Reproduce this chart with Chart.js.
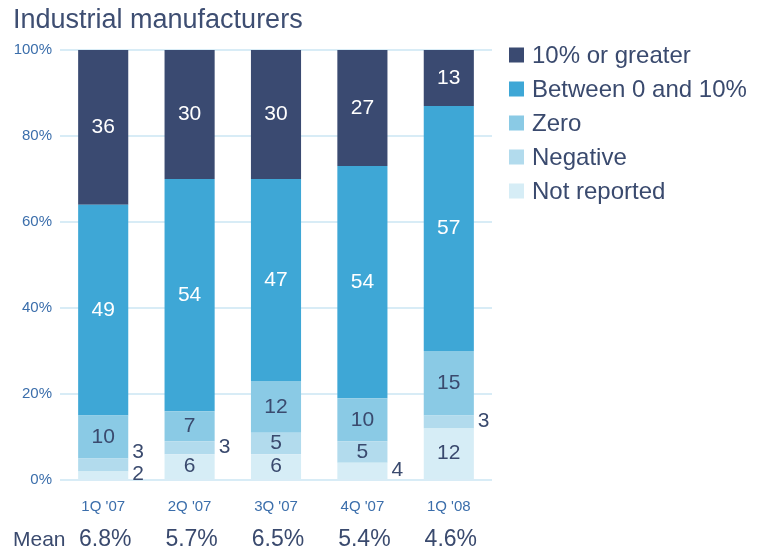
<!doctype html>
<html>
  <head>
    <title>Industrial manufacturers</title>
    <meta charset="UTF-8">
    <script src="https://cdn.jsdelivr.net/npm/chart.js"></script>
    <style>
      body { margin: 0; background: #fff; }
      canvas { display: block; }
    </style>
  </head>
  <body>
    <canvas id="chart" width="769" height="552"></canvas>
    <script>
      const categories = ["1Q '07", "2Q '07", "3Q '07", "4Q '07", "1Q '08"];
      const notReported = [2, 6, 6, 4, 12];
      const negative = [3, 3, 5, 5, 3];
      const zero = [10, 7, 12, 10, 15];
      const between0And10 = [49, 54, 47, 54, 57];
      const tenOrGreater = [36, 30, 30, 27, 13];
      const means = ['6.8%', '5.7%', '6.5%', '5.4%', '4.6%'];
      const yTicks = [0, 20, 40, 60, 80, 100];

      const FONT = '"Liberation Sans", Arial, sans-serif';
      const NAVY = '#3a4a6e';
      const TICK_BLUE = '#3b6eab';

      function series(label, data, color, labelColor) {
        return { label, data, backgroundColor: color, labelColor, borderWidth: 0 };
      }

      // value labels: inside the segment, or beside the bar when the segment is thin
      const segmentLabels = {
        id: 'segmentLabels',
        afterDatasetsDraw(chart) {
          const ctx = chart.ctx;
          ctx.save();
          ctx.font = '21px ' + FONT;
          ctx.textBaseline = 'middle';
          categories.forEach((_, j) => {
            let lastOutside = null;
            chart.data.datasets.forEach((ds, i) => {
              const bar = chart.getDatasetMeta(i).data[j];
              const v = ds.data[j];
              let y = (bar.y + bar.base) / 2;
              if (v < 5) {
                if (lastOutside !== null && y > lastOutside - 22) y = lastOutside - 22;
                lastOutside = y;
                ctx.fillStyle = NAVY;
                ctx.textAlign = 'left';
                ctx.fillText(v, bar.x + bar.width / 2 + 4, y - 1);
              } else {
                ctx.fillStyle = ds.labelColor;
                ctx.textAlign = 'center';
                ctx.fillText(v, bar.x, y);
              }
            });
          });
          ctx.restore();
        }
      };

      // legend on the right, top series first
      const sideLegend = {
        id: 'sideLegend',
        afterDraw(chart) {
          const ctx = chart.ctx;
          ctx.save();
          ctx.font = '24px ' + FONT;
          ctx.textBaseline = 'middle';
          ctx.textAlign = 'left';
          const items = chart.data.datasets.slice().reverse();
          items.forEach((ds, k) => {
            const cy = 55 + k * 34;
            ctx.fillStyle = ds.backgroundColor;
            ctx.fillRect(509, cy - 7.5, 15, 15);
            ctx.fillStyle = NAVY;
            ctx.fillText(ds.label, 532, cy + 1);
          });
          ctx.restore();
        }
      };

      // mean row under the category labels
      const meanRow = {
        id: 'meanRow',
        afterDraw(chart) {
          const ctx = chart.ctx;
          const x = chart.scales.x;
          ctx.save();
          ctx.fillStyle = NAVY;
          ctx.textBaseline = 'middle';
          ctx.textAlign = 'left';
          ctx.font = '21px ' + FONT;
          ctx.fillText('Mean', 13, 540);
          ctx.textAlign = 'center';
          ctx.font = '23px ' + FONT;
          means.forEach((m, j) => ctx.fillText(m, x.getPixelForValue(j) + 2, 540));
          ctx.restore();
        }
      };

      new Chart(document.getElementById('chart'), {
        type: 'bar',
        data: {
          labels: categories,
          datasets: [
            series('Not reported', notReported, '#d6edf6', NAVY),
            series('Negative', negative, '#b2dbed', NAVY),
            series('Zero', zero, '#8acae5', NAVY),
            series('Between 0 and 10%', between0And10, '#3ea7d6', '#ffffff'),
            series('10% or greater', tenOrGreater, '#3a4a71', '#ffffff'),
          ]
        },
        options: {
          responsive: false,
          animation: false,
          barPercentage: 0.58,
          categoryPercentage: 1,
          layout: { padding: { left: 13, right: 277, top: 0, bottom: 0 } },
          scales: {
            x: {
              stacked: true,
              grid: { display: false },
              border: { display: false },
              ticks: { font: { family: FONT, size: 15 }, color: TICK_BLUE, padding: 10 },
              afterFit(scale) { scale.height = 72; }
            },
            y: {
              stacked: true,
              min: 0,
              max: 100,
              afterBuildTicks(scale) { scale.ticks = yTicks.map(value => ({ value })); },
              ticks: {
                font: { family: FONT, size: 15 },
                color: TICK_BLUE,
                padding: 8,
                callback: v => v + '%'
              },
              grid: { color: '#d8ecf6', lineWidth: 2, drawTicks: false },
              border: { display: false },
              afterFit(scale) { scale.width = 47; }
            }
          },
          plugins: {
            legend: { display: false },
            tooltip: { enabled: false },
            title: {
              display: true,
              text: 'Industrial manufacturers',
              align: 'start',
              color: '#3e4e72',
              font: { family: FONT, size: 27, weight: 'normal' },
              padding: { top: 4, bottom: 13.6 }
            }
          }
        },
        plugins: [segmentLabels, sideLegend, meanRow]
      });
    </script>
  </body>
</html>
